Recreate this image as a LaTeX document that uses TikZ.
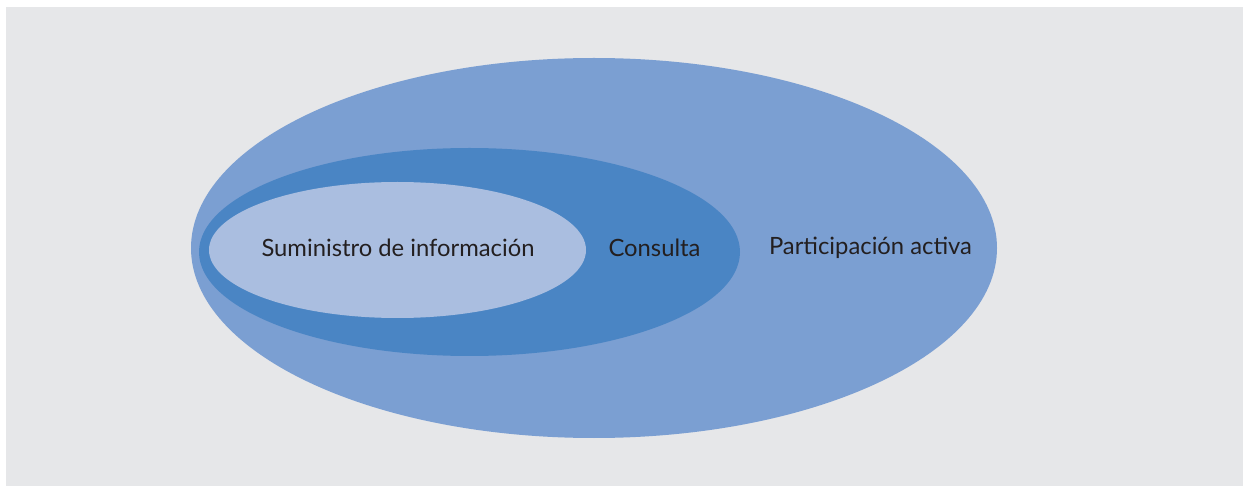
\documentclass[tikz,border=0pt]{standalone}
\usepackage{fontspec}
\setmainfont{Lato}
\definecolor{fondo}{HTML}{E6E7E9}
\definecolor{activa}{HTML}{7B9FD2}
\definecolor{consulta}{HTML}{4A85C4}
\definecolor{suministro}{HTML}{AABEE0}
\definecolor{texto}{HTML}{231F20}
\begin{document}
\begin{tikzpicture}[x=1pt, y=-1pt, every node/.style={text=texto,font=\fontsize{23.8}{27}\selectfont,inner sep=0pt}]
          \useasboundingbox (0,0) rectangle (1243,486);
          \fill [fondo] (6,7) rectangle (1243,486);
          \fill [activa] (594,248) ellipse [x radius=403, y radius=190];
          \fill [consulta] (469.5,252) ellipse [x radius=270.5, y radius=104];
          \fill [suministro] (397.5,250) ellipse [x radius=188.5, y radius=68];
          \node (sum) at (398,248) {Suministro de información};
          \node (con) at (654.5,248) {Consulta};
          \node (par) at (870.5,248) {Participación activa};
        \end{tikzpicture}
\end{document}
